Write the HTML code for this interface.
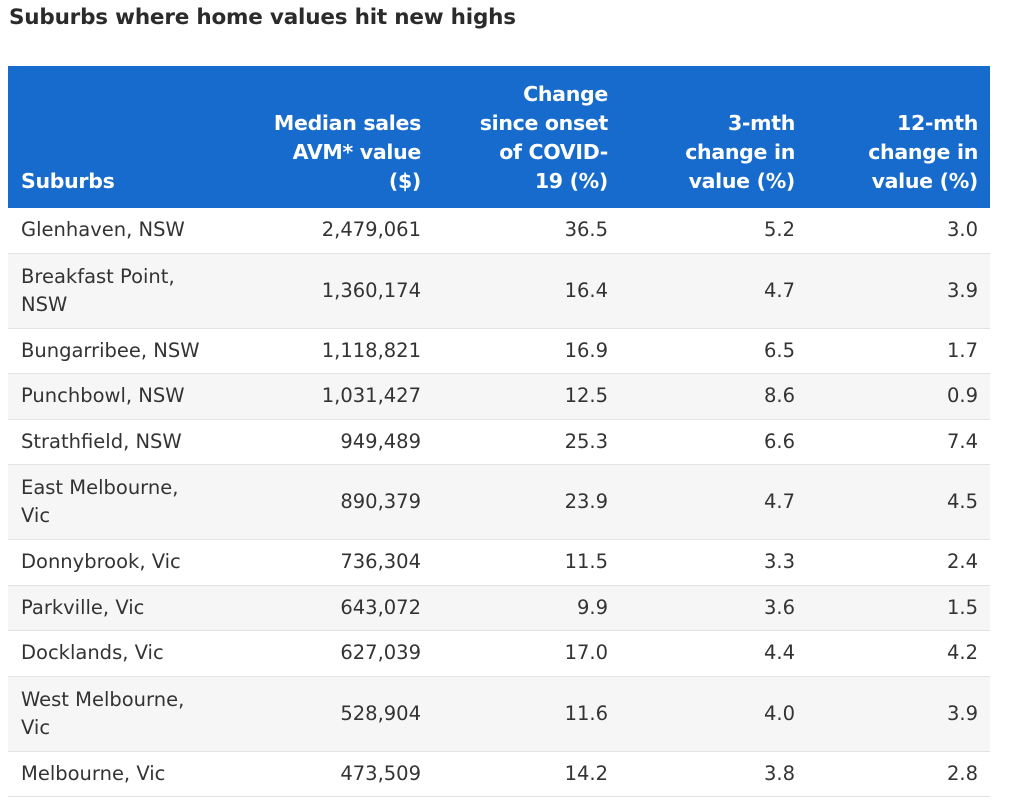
<!DOCTYPE html>
<html><head><meta charset="utf-8"><style>
body{margin:0;width:1024px;height:803px;background:#fff;font-family:"DejaVu Sans","Liberation Sans",sans-serif;color:#333;position:relative;overflow:hidden}
.t{position:absolute;left:9px;top:5px;font-size:21.5px;font-weight:bold;color:#2b2b2b;letter-spacing:-0.2px}
.hd{position:absolute;left:8px;top:66px;width:982px;height:142px;background:#166bcc}
.h{position:absolute;bottom:12px;color:#fff;font-weight:bold;font-size:20.5px;line-height:29px;text-align:right;letter-spacing:-0.3px}
.row{position:absolute;left:8px;width:982px;border-bottom:1px solid #e3e3e3;box-sizing:border-box}
.row.g{background:#f6f6f6}
.c{position:absolute;top:0;height:100%;display:flex;align-items:center;font-size:19.5px;line-height:28px}
.r{justify-content:flex-end;text-align:right}
</style></head><body>
<div class="t">Suburbs where home values hit new highs</div>
<div class="hd">
<div class="h" style="left:13px;text-align:left">Suburbs</div>
<div class="h" style="right:569px">Median sales<br>AVM* value<br>($)</div>
<div class="h" style="right:382px">Change<br>since onset<br>of COVID-<br>19 (%)</div>
<div class="h" style="right:195px">3-mth<br>change in<br>value (%)</div>
<div class="h" style="right:12px">12-mth<br>change in<br>value (%)</div>
</div>
<div id="body"></div>
<script>
const suburbs=["Glenhaven, NSW","Breakfast Point,<br>NSW","Bungarribee, NSW","Punchbowl, NSW","Strathfield, NSW","East Melbourne,<br>Vic","Donnybrook, Vic","Parkville, Vic","Docklands, Vic","West Melbourne,<br>Vic","Melbourne, Vic"];
const median=["2,479,061","1,360,174","1,118,821","1,031,427","949,489","890,379","736,304","643,072","627,039","528,904","473,509"];
const covid=["36.5","16.4","16.9","12.5","25.3","23.9","11.5","9.9","17.0","11.6","14.2"];
const m3=["5.2","4.7","6.5","8.6","6.6","4.7","3.3","3.6","4.4","4.0","3.8"];
const m12=["3.0","3.9","1.7","0.9","7.4","4.5","2.4","1.5","4.2","3.9","2.8"];
const body=document.getElementById('body');
let y=208;
suburbs.forEach((s,i)=>{
  const h=s.includes('<br>')?75:45.5;
  const r=document.createElement('div');
  r.className='row'+(i%2?' g':'');
  r.style.top=y+'px';r.style.height=h+'px';
  
  
  const cells=[[s,'left:13px;width:240px',''],[median[i],'right:569px',' r'],[covid[i],'right:382px',' r'],[m3[i],'right:195px',' r'],[m12[i],'right:12px',' r']];
  cells.forEach((c,j)=>{
    const d=document.createElement('div');
    d.className='c'+c[2];d.style.cssText=c[1];d.innerHTML=c[0];
    
    
    r.appendChild(d);
  });
  body.appendChild(r);
  y+=h;
});
</script>
</body></html>
